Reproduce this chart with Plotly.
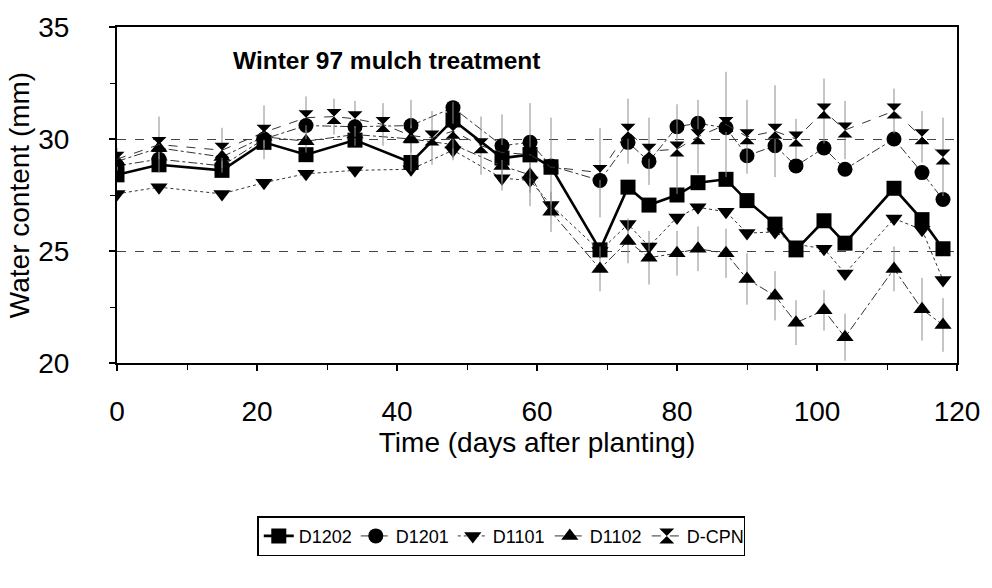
import plotly.graph_objects as go

# Sampling days (days after planting)
days = [0, 6, 15, 21, 27, 31, 34, 38, 42, 45, 48, 52, 55, 59, 62, 69, 73, 76,
        80, 83, 87, 90, 94, 97, 101, 104, 111, 115, 118]

# Profile water content (mm) per treatment; None = not sampled that day
d1202 = [28.4, 28.85, 28.6, 29.85, 29.3, None, 29.95, None, 28.95, None, 30.85, None,
         29.15, 29.3, 28.75, 25.05, 27.85, 27.05, 27.5, 28.05, 28.2, 27.25, 26.2, 25.05,
         26.35, 25.35, 27.8, 26.4, 25.1]
d1201 = [28.8, 29.1, 28.8, 30.0, 30.6, None, 30.55, None, 30.6, None, 31.4, None,
         29.7, 29.85, 28.8, 28.15, 29.85, 29.0, 30.55, 30.7, 30.5, 29.25, 29.7, 28.8,
         29.6, 28.65, 30.0, 28.5, 27.3]
d1101 = [27.55, 27.85, 27.55, 28.05, 28.45, None, 28.6, None, 28.65, None, 29.5, None,
         28.25, 28.15, 27.05, 25.0, 26.2, 25.2, 26.5, 26.95, 26.75, 25.8, 25.85, 25.3,
         25.1, 24.0, 26.45, 25.95, 23.7]
d1102 = [29.0, 29.6, 29.2, 30.1, 29.9, None, 30.2, None, 30.0, None, 29.75, None,
         28.8, 28.4, 26.75, 24.2, 25.45, 24.7, 24.9, 25.1, 24.9, 23.75, 23.0, 21.8,
         22.35, 21.15, 24.2, 22.4, 21.7]
dcpn = [29.1, 29.75, 29.5, 30.3, 30.95, 31.0, 30.9, 30.65, 30.15, 30.05, 30.35, 29.7,
        29.4, 29.3, 28.75, 28.5, 30.35, 29.45, 29.55, 30.1, 30.65, 30.1, 30.35, 30.0,
        31.25, 30.4, 31.25, 30.1, 29.2]

# Standard deviations shown as error bars
dcpn_sd = [0.5, 1.25, 1.0, 1.2, 0.95, 0.8, 0.8, 0.95, 1.6, 1.2, 1.3, 1.3,
           1.7, 2.3, 2.2, 2.0, 1.45, 1.5, 2.0, 1.65, 2.35, 1.65, 2.05, 0.9,
           1.45, 1.3, 1.0, 1.15, 1.75]
d1102_sd = [0.4, 0.5, 0.5, 0.5, 0.5, None, 0.5, None, 0.6, None, 0.6, None,
            0.7, 0.8, 0.9, 1.0, 1.0, 1.2, 1.0, 1.0, 1.1, 1.15, 1.1, 1.0,
            0.9, 1.05, 1.0, 1.4, 1.2]

FONT = "Liberation Sans, Arial, sans-serif"

series = [
    ("D1202", d1202, "square", dict(color="black", width=2.6, dash="solid"), None),
    ("D1201", d1201, "circle", dict(color="#333333", width=1, dash="dashdot"), None),
    ("D1101", d1101, "triangle-down", dict(color="#333333", width=1, dash="dot"), None),
    ("D1102", d1102, "triangle-up", dict(color="#333333", width=1, dash="dashdot"), d1102_sd),
    ("D-CPN", dcpn, "hourglass", dict(color="#333333", width=1, dash="dash"), dcpn_sd),
]

fig = go.Figure()
for name, vals, sym, line, sd in series:
    err = None
    if sd is not None:
        err = dict(type="data", array=sd, visible=True, color="#8c8c8c",
                   thickness=1, width=0)
    fig.add_trace(go.Scatter(
        x=days, y=vals, name=name, mode="lines+markers", connectgaps=True,
        line=line,
        marker=dict(symbol=sym, size=15, color="black", line=dict(width=0)),
        error_y=err,
    ))

fig.add_annotation(
    text="<b>Winter 97 mulch treatment</b>", xref="paper", yref="paper",
    x=0.136, y=0.9, xanchor="left", yanchor="middle", showarrow=False,
    font=dict(family=FONT, size=24.5, color="black"),
)

fig.update_layout(
    width=992, height=588,
    margin=dict(l=117, r=30, t=23, b=225),
    paper_bgcolor="white", plot_bgcolor="white",
    font=dict(family=FONT, color="black"),
    showlegend=True,
    legend=dict(
        orientation="h", x=0.167, y=-0.456, xanchor="left", yanchor="top",
        bordercolor="black", borderwidth=1.5, bgcolor="white",
        font=dict(family=FONT, size=18, color="black"),
        entrywidth=52, entrywidthmode="pixels", itemsizing="trace",
        tracegroupgap=0,
    ),
)

fig.update_xaxes(
    range=[0, 120], dtick=20, tick0=0,
    showline=True, linewidth=2, linecolor="black", mirror=True,
    ticks="outside", ticklen=6, tickwidth=1.5, tickcolor="black",
    minor=dict(dtick=10, ticks="outside", ticklen=5, tickwidth=1.2, tickcolor="black"),
    showgrid=False, zeroline=False,
    tickfont=dict(family=FONT, size=28),
    ticklabelstandoff=16,
    title=dict(text="Time (days after planting)", font=dict(family=FONT, size=28), standoff=2),
)
fig.update_yaxes(
    range=[20, 35], dtick=5, tick0=20,
    showline=True, linewidth=2, linecolor="black", mirror=True,
    ticks="outside", ticklen=6, tickwidth=1.5, tickcolor="black",
    minor=dict(dtick=2.5, ticks="outside", ticklen=5, tickwidth=1.2, tickcolor="black"),
    showgrid=True, gridcolor="#444444", gridwidth=1, griddash="dash",
    zeroline=False,
    tickfont=dict(family=FONT, size=28),
    ticklabelstandoff=34,
    title=dict(text="Water content (mm)", font=dict(family=FONT, size=28), standoff=0),
)

fig.write_html("out.html")
